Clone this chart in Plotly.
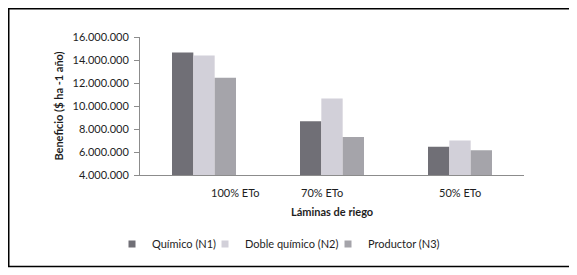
import plotly.graph_objects as go

categories = ["100% ETo", "70% ETo", "50% ETo"]
series_names = ["Químico (N1)", "Doble químico (N2)", "Productor (N3)"]
quimico_n1 = [14650000, 8670000, 6460000]
doble_quimico_n2 = [14400000, 10650000, 7000000]
productor_n3 = [12450000, 7300000, 6150000]
y_tick_values = [4000000, 6000000, 8000000, 10000000, 12000000, 14000000, 16000000]
y_tick_labels = ["4.000.000", "6.000.000", "8.000.000", "10.000.000", "12.000.000", "14.000.000", "16.000.000"]

colors = ["#706f76", "#d2d0d9", "#a5a4aa"]
FONT = "Lato"
TXT = "#1e1e1e"

# The page body has an 8px margin; the figure is sized to fit the window.
W, H = 569, 267
ML, MR, MT, MB = 132, 53, 29, 100
PW, PH = W - ML - MR, H - MT - MB

legend_names = ["legend", "legend2", "legend3"]
legend_x = [-0.0729, 0.1693, 0.4896]

fig = go.Figure()
for name, vals, c, lg in zip(series_names, [quimico_n1, doble_quimico_n2, productor_n3], colors, legend_names):
    fig.add_trace(go.Bar(x=categories, y=vals, name=name, legendgroup=name, showlegend=False,
                         marker=dict(color=c, line=dict(width=0))))
    # legend entry with a small square symbol, like the original
    fig.add_trace(go.Scatter(x=[None], y=[None], name=name, legendgroup=name, legend=lg,
                             mode="markers", showlegend=True, hoverinfo="skip",
                             marker=dict(symbol="square", size=7, color=c, line=dict(width=0))))

label_shift = [31, -10, 0]
annotations = []
for cat, s in zip(categories, label_shift):
    annotations.append(dict(x=cat, xref="x", y=-0.128, yref="paper", text=cat, showarrow=False,
                            xshift=s, font=dict(family=FONT, size=11, color=TXT), yanchor="middle"))
annotations.append(dict(x=0.5, xref="paper", y=-0.268, yref="paper", text="<b>Láminas de riego</b>",
                        showarrow=False, font=dict(family=FONT, size=11, color=TXT), yanchor="middle"))

def leg(x):
    return dict(orientation="h", x=x, xanchor="left", y=-0.5, yanchor="middle",
                font=dict(family=FONT, size=11, color=TXT), itemwidth=30, itemsizing="trace",
                bgcolor="rgba(0,0,0,0)", borderwidth=0)

fig.update_layout(
    width=W, height=H,
    margin=dict(l=ML, r=MR, t=MT, b=MB, autoexpand=False),
    paper_bgcolor="white", plot_bgcolor="white",
    barmode="group", bargap=0.5, bargroupgap=0,
    font=dict(family=FONT, size=11, color=TXT),
    showlegend=True,
    legend=leg(legend_x[0]), legend2=leg(legend_x[1]), legend3=leg(legend_x[2]),
    annotations=annotations,
    shapes=[dict(type="rect", xref="paper", yref="paper",
                 x0=(0.75 - ML) / PW, x1=(567 - ML) / PW,
                 y0=(MT + PH - 258.5) / PH, y1=(MT + PH - 0.75) / PH,
                 line=dict(color="black", width=1.5), fillcolor="rgba(0,0,0,0)", layer="below")],
)
fig.update_xaxes(type="category", showticklabels=False, showline=True, linecolor="#8c8c8c", linewidth=1,
                 ticks="", showgrid=False, zeroline=False)
fig.update_yaxes(range=[4000000, 16000000], tickvals=y_tick_values, ticktext=y_tick_labels,
                 showline=True, linecolor="#8c8c8c", linewidth=1, ticks="outside", ticklen=5,
                 tickcolor="#8c8c8c", showgrid=False, zeroline=False, ticklabelstandoff=3,
                 tickfont=dict(family=FONT, size=11, color=TXT),
                 title=dict(text="<b>Beneficio ($ ha -1 año)</b>", standoff=6,
                            font=dict(family=FONT, size=11, color=TXT)))

fig.write_html("out.html")
